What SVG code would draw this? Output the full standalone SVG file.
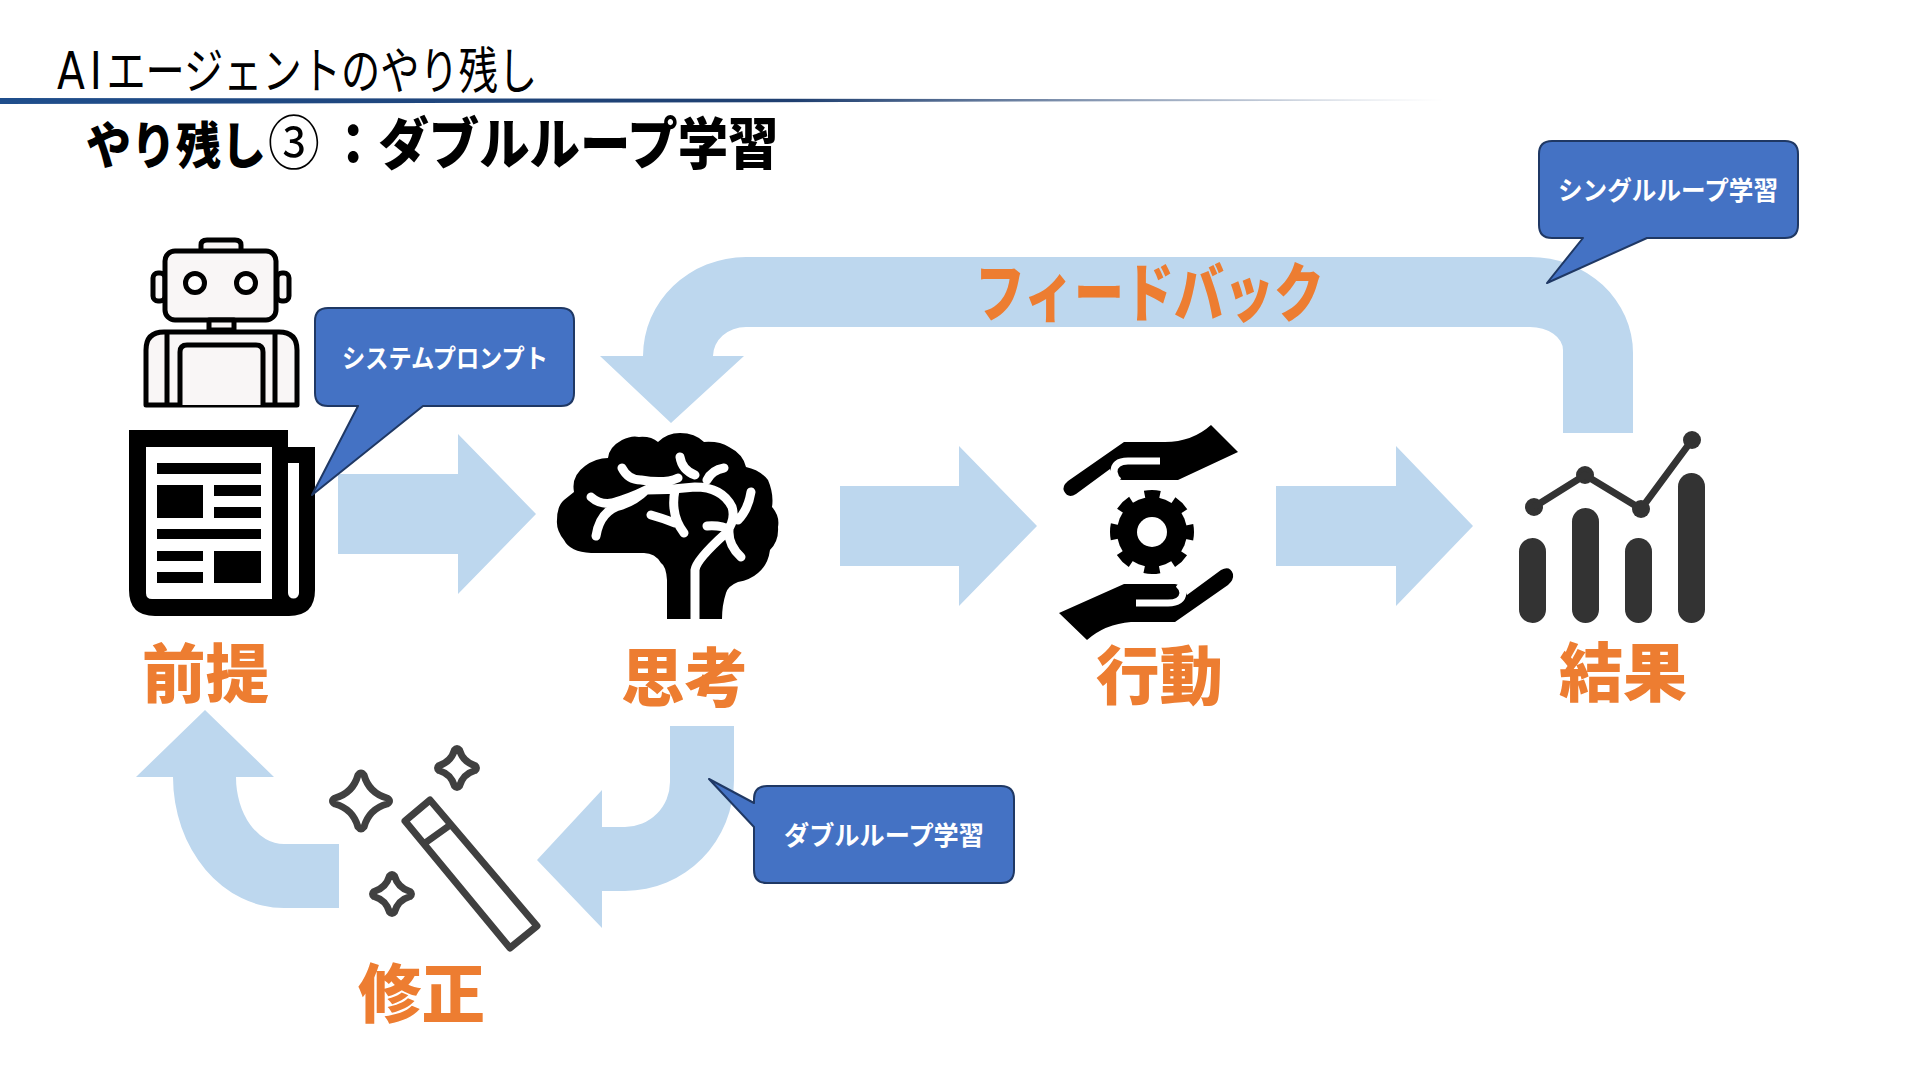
<svg xmlns="http://www.w3.org/2000/svg" width="1920" height="1080" viewBox="0 0 1920 1080">
<style>
text{font-family:"Noto Sans CJK JP","Noto Sans",sans-serif}
.lab{font-size:64px;font-weight:900;fill:#ed7d31}
.cal{font-weight:700;fill:#fff;font-size:26px}
.bub{fill:#4472c4;stroke:#1f3864;stroke-width:2;stroke-linejoin:round}
.arr{fill:#bdd7ee}
.vein{fill:none;stroke:#fff;stroke-width:9;stroke-linecap:round;stroke-linejoin:round}
.spark{fill:#fff;stroke:#404040;stroke-width:7;stroke-linejoin:round}
</style>
<defs>
<linearGradient id="rule" x1="0" x2="1" y1="0" y2="0"><stop offset="0" stop-color="#1f4e8c"/><stop offset=".55" stop-color="#1f3f70"/><stop offset="1" stop-color="#1f3f70" stop-opacity="0"/></linearGradient>
</defs>
<rect width="1920" height="1080" fill="#fff"/>
<g id="title">
<text transform="translate(57,89) scale(.785,1)" font-size="50"><tspan font-family="'DejaVu Sans',sans-serif" font-size="52" letter-spacing="6">AI</tspan>エージェントのやり残し</text>
<path d="M0,98L1445,99.5V100.5L0,104Z" fill="url(#rule)"/>
<text transform="translate(86,164) scale(.9,1)" font-size="56" font-weight="900"><tspan font-size="50">やり残し</tspan><tspan dx="2" font-size="58" font-weight="400">③</tspan><tspan dx="9">：ダブルループ学習</tspan></text>
</g>
<g id="connectors">
<path class="arr" d="M338,474H458V434L536,514L458,594V554H338Z"/>
<path class="arr" d="M840,486H959V446L1037,526L959,606V566H840Z"/>
<path class="arr" d="M1276,486H1396V446L1473,526L1396,606V566H1276Z"/>
<path class="arr" d="M1633,433V353A103,96 0 0 0 1530,257H746A103,99 0 0 0 643,356H600L671,423L744,356H713A33,29 0 0 1 746,327H1530A33,23 0 0 1 1563,350V433Z"/>
<path class="arr" d="M670,726H734V780A109,111 0 0 1 625,891H602V928L537,860L602,790V827H625A45,45 0 0 0 670,782Z"/>
<path class="arr" d="M339,844H284A48,67 0 0 1 236,777H274L205,710L136,777H173A111,131 0 0 0 284,908H339Z"/>
</g>
<g id="node-premise">
<g id="robot" fill="#f9f6f6" stroke="#000" stroke-width="5" stroke-linejoin="round">
<path d="M201,250V245Q201,240 207,240H235Q241,240 241,245V250"/>
<rect x="153" y="273" width="12" height="28" rx="5"/>
<rect x="277" y="273" width="12" height="28" rx="5"/>
<rect x="165" y="251" width="111" height="69" rx="10"/>
<rect x="209" y="320" width="25" height="10"/>
<path d="M146,405V350Q146,332 164,332H279Q297,332 297,350V405Z"/>
<path d="M167,332V405M275,332V405"/>
<path d="M180,405V352Q180,345 187,345H256Q263,345 263,352V405"/>
<circle cx="195" cy="283" r="9.5" fill="#fff"/>
<circle cx="246" cy="283" r="9.5" fill="#fff"/>
</g>
<g id="paper">
<path d="M129,430H288V447H315V590Q315,616 289,616H155Q129,616 129,590Z"/>
<path d="M146,447H272V599H152Q146,599 146,593Z" fill="#fff"/>
<path d="M288,463H299V593A5.5,5.5 0 0 1 288,593Z" fill="#fff"/>
<path d="M157,463H261V474H157ZM157,485H203V518H157ZM214,485H261V496H214ZM214,507H261V518H214ZM157,529H261V539H157ZM157,551H203V561H157ZM157,572H203V583H157ZM214,551H261V583H214Z"/>
</g>
<text class="lab" x="142" y="697" textLength="127" lengthAdjust="spacingAndGlyphs">前提</text>
</g>
<g id="callout-system">
<path class="bub" d="M328,308H561Q574,308 574,321V393Q574,406 561,406H423L312,495L358,406H328Q315,406 315,393V321Q315,308 328,308Z"/>
<text class="cal" x="342" y="368" textLength="206" lengthAdjust="spacingAndGlyphs">システムプロンプト</text>
</g>
<g id="node-think">
<path d="M667,619V580Q666,566 661,563Q655,553 644,553H591Q570,552 564,540Q556,530 557,520Q557,506 564,500L574,492Q571,476 585,466Q596,458 608,458Q609,447 622,440Q632,435 639,437Q651,436 658,442Q667,433 680,433Q695,433 704,442Q720,441 729,447Q743,454 746,467Q760,470 768,480Q774,494 772,507Q780,516 778,527Q779,541 770,550Q768,565 758,573Q750,580 738,582Q728,586 726,593Q722,605 722,619H695H667Z"/>
<path class="vein" d="M695,619V570Q696,560 726,533Q736,520 732,507Q722,487 695,487Q670,490 646,490Q636,500 622,505Q600,510 596,536M591,497Q600,505 612,503Q630,498 646,490M622,468Q628,480 641,480Q665,484 678,478M695,475Q682,470 680,457M724,468Q712,470 707,480M675,490Q670,515 684,533M651,515Q662,518 675,523M707,526Q722,525 729,530Q728,545 741,557M751,492Q748,510 738,520"/>
<text class="lab" x="621" y="701" textLength="127" lengthAdjust="spacingAndGlyphs">思考</text>
</g>
<g id="node-act">
<path d="M1211,425L1238,452L1178,480H1122Q1114,480 1110,469L1076,494Q1068,499 1064,491Q1062,486 1068,481L1124,442H1165Q1192,442 1211,425Z"/>
<path d="M1160,461H1128Q1114,461 1114,472Q1115,478 1119,481" fill="none" stroke="#fff" stroke-width="7"/>
<path d="M1087,640L1059,613L1124,584H1175Q1184,585 1187,595L1221,570Q1230,565 1233,574Q1234,580 1228,585L1175,622H1131Q1105,624 1087,640Z"/>
<path d="M1136,603H1168Q1182,603 1183,593Q1182,587 1178,584" fill="none" stroke="#fff" stroke-width="7"/>
<circle cx="1152" cy="532" r="35"/>
<circle cx="1152" cy="532" r="37" fill="none" stroke="#000" stroke-width="10" stroke-dasharray="15 14.06" stroke-dashoffset="7.5"/>
<circle cx="1152" cy="532" r="15" fill="#fff"/>
<text class="lab" x="1096" y="699" textLength="127" lengthAdjust="spacingAndGlyphs">行動</text>
</g>
<g id="node-result">
<g fill="#333">
<rect x="1519" y="538" width="27" height="85" rx="13.5"/>
<rect x="1572" y="508" width="27" height="115" rx="13.5"/>
<rect x="1625" y="538" width="27" height="85" rx="13.5"/>
<rect x="1678" y="473" width="27" height="150" rx="13.5"/>
<circle cx="1534" cy="507" r="9"/><circle cx="1585" cy="475" r="9"/><circle cx="1641" cy="509" r="9"/><circle cx="1692" cy="440" r="9"/>
</g>
<path d="M1534,507L1585,475L1641,509L1692,440" fill="none" stroke="#333" stroke-width="7"/>
<text class="lab" x="1559" y="696" textLength="128" lengthAdjust="spacingAndGlyphs">結果</text>
</g>
<g id="callout-single">
<path class="bub" d="M1552,141H1785Q1798,141 1798,154V225Q1798,238 1785,238H1647L1547,283L1583,238H1552Q1539,238 1539,225V154Q1539,141 1552,141Z"/>
<text class="cal" x="1558" y="200" textLength="220" lengthAdjust="spacingAndGlyphs">シングルループ学習</text>
</g>
<g id="node-fix">
<path class="spark" d="M358,775Q361,771 364,775Q369,793 387,798Q392,801 387,804Q369,809 364,827Q361,831 358,827Q353,809 335,804Q330,801 335,798Q353,793 358,775Z"/>
<path class="spark" d="M454.5,750Q457,747 459.5,750Q463,762 475,765.5Q478,768 475,770.5Q463,774 459.5,786Q457,789 454.5,786Q451,774 439,770.5Q436,768 439,765.5Q451,762 454.5,750Z"/>
<path class="spark" d="M389.5,876Q392,873 394.5,876Q398,888 410,891.5Q413,894 410,896.5Q398,900 394.5,912Q392,915 389.5,912Q386,900 374,896.5Q371,894 374,891.5Q386,888 389.5,876Z"/>
<path d="M430,800L405,821L510,948L537,926ZM425,843L453,823" fill="#fff" stroke="#404040" stroke-width="7" stroke-linejoin="round"/>
<text class="lab" x="358" y="1017" textLength="127" lengthAdjust="spacingAndGlyphs">修正</text>
</g>
<g id="callout-double">
<path class="bub" d="M767,786H1001Q1014,786 1014,799V870Q1014,883 1001,883H767Q754,883 754,870V827L709,779L754,803V799Q754,786 767,786Z"/>
<text class="cal" x="784" y="845" textLength="200" lengthAdjust="spacingAndGlyphs">ダブルループ学習</text>
</g>
<text id="feedback" class="lab" x="975" y="316" style="font-size:64px" textLength="349" lengthAdjust="spacingAndGlyphs">フィードバック</text>
</svg>
